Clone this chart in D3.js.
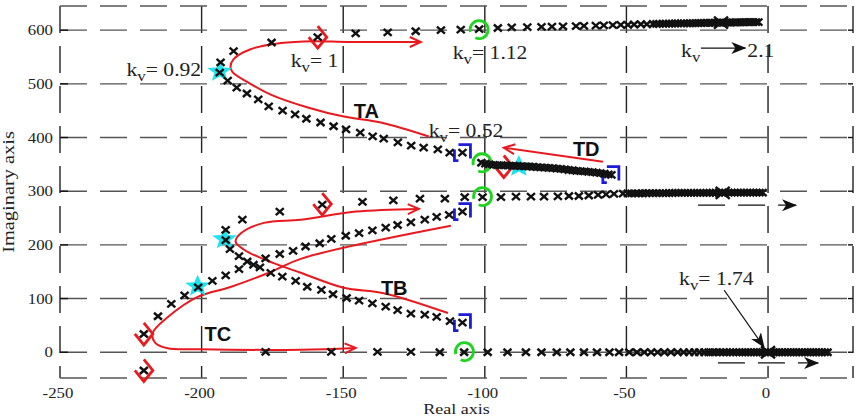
<!DOCTYPE html>
<html lang="en">
<head>
<meta charset="UTF-8">
<title>Root locus</title>
<script src="https://d3js.org/d3.v7.min.js"></script>
<style>
  body, html { margin: 0; padding: 0; background: #fff; overflow: hidden; }
  svg { display: block; }
  text.serif { font-family: "Liberation Serif", "Times New Roman", Times, "DejaVu Serif", serif; fill: #222; }
  text.tag { font-family: "Liberation Sans", Arial, sans-serif; font-weight: bold; font-size: 20px; fill: #111; }
</style>
</head>
<body>
<svg width="868" height="420"></svg>
<script>
// axis ticks
const xTicks = [-250, -200, -150, -100, -50, 0];
const yTicks = [0, 100, 200, 300, 400, 500, 600];

// locus points (real, imag)
const branchA = [
  [-107.9,372],[-112.4,372],[-116.6,378],[-121.6,381],[-126,385],[-130.7,391],[-135.7,398],[-139.6,402],
  [-144,409],[-149,415],[-153.4,421],[-158,428],[-163,435],[-167,443],[-171.4,450],[-176.3,458],
  [-180,471],[-184,482],[-187.6,493],[-190.8,506],[-193.6,521],[-193.3,540],[-188.7,561],[-175.3,577],
  [-159,587],[-145.6,594],[-134.3,596],[-124.4,598],[-115.5,600],[-108.5,601],[-102,602],[-95.4,604],
  [-90.5,605],[-85,605.5],[-80,606],[-76.3,606.5],[-72.4,607],[-67.8,607.5],[-65,608],[-60.8,608.5],
  [-58,609],[-54.8,609.5],[-52,610],[-49.5,610],[-47.3,610.5],[-44.9,611],[-42.8,611],[-40.6,611.5],
  [-39.4,611.6],[-38.3,611.8],[-37.1,611.9],[-36,612],[-34.9,612.1],[-33.9,612.3],[-32.8,612.4],[-31.8,612.5],
  [-30.7,612.6],[-29.7,612.7],[-28.6,612.8],[-27.6,612.9],[-26.6,613],[-25.6,613.1],[-24.6,613.2],[-23.6,613.3],
  [-22.6,613.4],[-21.7,613.5],[-20.7,613.6],[-19.8,613.7],[-18.8,613.8],[-17.9,613.9],[-16.9,614],[-16,614],
  [-15.1,614.1],[-14.2,614.2],[-13.3,614.3],[-12.4,614.4],[-11.5,614.5],[-10.6,614.5],[-9.7,614.6],[-8.8,614.7],
  [-7.9,614.8],[-7,614.8],[-6.1,614.9],[-5.2,615],[-4.3,615],[-3.4,615.1]
];
const branchB = [
  [-107.9,55],[-112.3,58],[-117,66],[-121.2,70],[-126.1,72],[-130.8,78.5],[-135,85],[-139.7,91],
  [-144.4,96],[-148.8,101],[-153.6,108],[-157.7,116],[-162.7,122],[-166.8,133],[-171.5,141],[-175.6,148],
  [-179.4,158],[-183.9,169],[-186.8,179],[-190,192],[-191.5,209],[-191.5,228],[-185.6,247],[-172.4,262],
  [-157.4,275],[-143.2,280],[-132.3,283],[-122.9,286],[-114.1,286],[-107.1,289],[-100.8,289],[-94.3,289],
  [-89,290],[-83.7,290],[-79.1,290],[-74.2,290.5],[-70.3,291],[-66.8,291],[-63.3,292],[-60,293],
  [-57.2,294],[-54.4,295],[-51.2,295.5],[-49.5,296],[-48.2,296],[-46.9,296.1],[-45.7,296.1],[-44.4,296.2],
  [-43.1,296.2],[-41.9,296.3],[-40.7,296.3],[-39.5,296.4],[-38.3,296.4],[-37.1,296.5],[-36,296.5],[-34.9,296.6],
  [-33.8,296.6],[-32.7,296.7],[-31.6,296.7],[-30.5,296.8],[-29.4,296.8],[-28.3,296.8],[-27.2,296.9],[-26.1,296.9],
  [-25,296.9],[-23.9,297],[-22.8,297],[-21.7,297],[-20.6,297],[-19.5,297.1],[-18.4,297.1],[-17.3,297.1],
  [-16.2,297.1],[-15.1,297.2],[-14,297.2],[-12.9,297.2],[-11.8,297.2],[-10.7,297.2],[-9.6,297.3],[-8.5,297.3],
  [-7.4,297.3],[-6.3,297.3],[-5.2,297.3],[-4.1,297.3],[-3,297.3],[-1.9,297.3]
];
const branchC = [
  [-220.4,-34],[-220.4,34],[-215.4,67],[-210.7,90],[-206,106],[-201.2,121],[-196.2,133],[-191.5,143],
  [-186.8,155],[-181.7,163],[-177.4,175],[-172.4,183],[-167.7,189],[-163.3,197],[-158.3,203],[-154.2,211],
  [-149.1,217],[-144.4,222],[-139.7,227],[-135,232],[-130.8,237],[-126.1,242],[-121.2,247],[-117,252],
  [-112.6,256],[-107.9,262]
];
const branchReal = [
  [-177.4,0.6],[-154.2,0.6],[-137.9,0.6],[-126.1,0.6],[-115.9,0],[-107.3,0],[-99,0],[-92,0],
  [-85.5,0],[-80,0],[-74.6,0],[-69.8,0],[-65,0],[-60.4,0],[-56,0],[-52.6,0],[-49,0],[-46.3,0],
  [-43.7,0],[-41.3,0],[-39,0],[-36.6,0],[-34.3,0],[-31.9,0],[-29.8,0],[-27.8,0],[-26,0],[-24.3,0],
  [-22.5,0],[-21,0],[-19.6,0],[-18.3,0],[-17,0],[-15.8,0],[-14.6,0],[-13.4,0],[-12.3,0],[-11.2,0],
  [-10.1,0],[-9,0],[-8,0],[-7,0],[-6,0],[-5,0],[-4,0],[-3,0],[-2,0],[-1,0],[0,0],[1,0],[2,0],[3,0],
  [4,0],[5,0],[6,0],[7,0],[8,0],[9,0],[10,0],[11,0],[12,0],[13,0],[14,0],[15,0],[16,0],[17,0],
  [18,0],[19,0],[20,0],[21,0]
];
const branchD = [
  [-101.2,353],[-99.8,351.5],[-98.4,350],[-97,349],[-95.6,348.6],[-94.2,348.3],[-92.8,348],[-91.4,347.7],
  [-90,347.4],[-88.6,347.1],[-87.2,346.8],[-85.8,346.4],[-84.4,346],[-83,345.5],[-81.6,345],[-80.2,344.5],
  [-78.8,344],[-77.4,343.5],[-76,343],[-74.6,342],[-73.2,341.5],[-71.8,340.5],[-70.4,339.5],[-69,339],
  [-67.6,338],[-66.2,337.5],[-64.8,337],[-63.4,336],[-62,335.5],[-60.6,334.5],[-59.2,333.5],[-57.8,332.5],
  [-56.4,331.5],[-55.3,330.5]
];
const openLoopPoles = [[-16.6,614],[-16,297],[0,0]];

// highlighted points
const stars = [[-193.6,523],[-191.9,211],[-201.4,123],[-88,346]];
const diamonds = [[-159,587],[-157.4,276],[-220.4,34],[-220.4,-34],[-93.3,346]];
const squares = [[-107.9,372],[-55.5,331],[-107.9,262],[-107.9,55]];
const circles = [[-102,601],[-101,353],[-100.8,290],[-107.2,1]];

// red trajectory arrows
const pathTA = [[-119.8,402],[-136.7,428],[-149.8,439],[-162.5,456],[-175.6,480],[-183.7,503],[-189,521.5],
  [-189.8,531],[-188.7,546],[-182.7,564.5],[-172,576],[-160.4,579.4],[-148.4,578],[-122.6,578]];
const pathTB = [[-113,73],[-135.7,110],[-149.8,120],[-165,148],[-174.6,166],[-185,191],[-188,206],
  [-186,222],[-178,241],[-165,247],[-145.6,262],[-123.3,267]];
const pathTC = [[-112,235.5],[-165,174],[-175.6,149.5],[-189.8,121.5],[-201.4,103],[-212,65],[-217.3,35.5],
  [-216.3,17],[-212,7.5],[-200.4,5.6],[-165,4.7],[-145.6,8]];
const pathTD = [[-58.3,355],[-93.3,381]];

// text annotations: [x, y, value]
const kvLabels = [[-226.5,514.5,"= 0.92"],[-168.5,531,"= 1"],[-111.3,546,"= 1.12"],[-119.8,401,"= 0.52"],[-31.4,125,"= 1.74"]];
const tags = [["TA",-146.3,436],["TB",-136.7,106],["TC",-199,21],["TD",-68.9,365.5]];

const svg = d3.select("svg");
const x = d3.scaleLinear().domain([-250, 30]).range([60, 853]);
const y = d3.scaleLinear().domain([-48, 645]).range([378, 6]);
const stretch = 1.2;
const serifFont = "'Liberation Serif', 'Times New Roman', Times, 'DejaVu Serif', serif";

const defs = svg.append("defs");
defs.append("marker").attr("id", "redHead")
  .attr("markerUnits", "userSpaceOnUse").attr("markerWidth", 16).attr("markerHeight", 16)
  .attr("refX", 12).attr("refY", 6).attr("orient", "auto")
  .append("path").attr("d", "M1,1 L12,6 L1,11")
  .attr("fill", "none").attr("stroke", "#e8191f").attr("stroke-width", 2);
defs.append("marker").attr("id", "blackHead")
  .attr("markerUnits", "userSpaceOnUse").attr("markerWidth", 18).attr("markerHeight", 14)
  .attr("refX", 14).attr("refY", 6).attr("orient", "auto")
  .append("path").attr("d", "M0,0 L15,6 L0,12 L4,6 Z").attr("fill", "#111");

// grid and frame
const grid = svg.append("g");
const [x0, x1] = x.range();
const [y0, y1] = y.range();
grid.selectAll(".vgrid").data(xTicks.concat([30])).enter().append("line")
  .attr("x1", d => x(d)).attr("x2", d => x(d)).attr("y1", y1).attr("y2", y0)
  .attr("stroke", "#222").attr("stroke-width", 1.4).attr("stroke-dasharray", "27,13");
grid.selectAll(".hgrid").data(yTicks.concat([-48, 645])).enter().append("line")
  .attr("x1", x0).attr("x2", x1).attr("y1", d => y(d)).attr("y2", d => y(d))
  .attr("stroke", "#555").attr("stroke-width", 1.4).attr("stroke-dasharray", "27,13");
grid.selectAll(".ltick").data(yTicks).enter().append("line")
  .attr("x1", x0).attr("x2", x0 + 8).attr("y1", d => y(d)).attr("y2", d => y(d))
  .attr("stroke", "#111").attr("stroke-width", 1.4);
grid.selectAll(".rtick").data(yTicks).enter().append("line")
  .attr("x1", x1 - 5).attr("x2", x1).attr("y1", d => y(d)).attr("y2", d => y(d))
  .attr("stroke", "#111").attr("stroke-width", 1.4);

// serif text helper (the picture is slightly stretched sideways)
function serifText(px, py, size, anchor, extra) {
  return svg.append("text").attr("class", "serif")
    .style("font-family", serifFont).attr("font-size", size).attr("text-anchor", anchor)
    .attr("transform", `translate(${px},${py})${extra || ""} scale(${stretch},1)`);
}

// tick labels
yTicks.forEach(d => serifText(53, y(d) + 5, 14, "end").text(d));
xTicks.forEach(d => serifText(x(d) - 2, 398, 14, "middle").text(d));
serifText((x0 + x1) / 2, 414, 15, "middle").text("Real axis");
serifText(14, (y0 + y1) / 2, 17, "middle", " rotate(-90)").text("Imaginary axis");

// red trajectories
const curve = d3.line().x(d => x(d[0])).y(d => y(d[1])).curve(d3.curveCatmullRom.alpha(0.5));
svg.append("g").selectAll("path").data([pathTA, pathTB, pathTC, pathTD]).enter().append("path")
  .attr("d", curve).attr("fill", "none").attr("stroke", "#e8191f").attr("stroke-width", 2)
  .attr("marker-end", "url(#redHead)");

// highlight symbols
function starPath(R, r) {
  const pts = [];
  for (let i = 0; i < 10; i++) {
    const a = -Math.PI / 2 + i * Math.PI / 5;
    const rad = i % 2 ? r : R;
    pts.push([rad * Math.cos(a) * 1.15, rad * Math.sin(a)]);
  }
  return "M" + pts.join("L") + "Z";
}
svg.append("g").selectAll("path").data(stars).enter().append("path")
  .attr("d", starPath(11.5, 5))
  .attr("transform", d => `translate(${x(d[0])},${y(d[1])})`)
  .attr("fill", "#20e3ee");

svg.append("g").selectAll("path").data(diamonds).enter().append("path")
  .attr("d", "M0,-11 L9,0 L0,11 L-9,0")
  .attr("transform", d => `translate(${x(d[0])},${y(d[1])})`)
  .attr("fill", "none").attr("stroke", "#e8191f").attr("stroke-width", 2.8);

svg.append("g").selectAll("path").data(squares).enter().append("path")
  .attr("d", "M-4,8 L-8,8 L-8,-3 M-4,-8 L8,-8 L8,6")
  .attr("transform", d => `translate(${x(d[0])},${y(d[1])})`)
  .attr("fill", "none").attr("stroke", "#1d1dd8").attr("stroke-width", 2.8);

const arcPath = d3.path();
arcPath.arc(0, 0, 9, 165 * Math.PI / 180, 475 * Math.PI / 180);
svg.append("g").selectAll("path").data(circles).enter().append("path")
  .attr("d", arcPath.toString())
  .attr("transform", d => `translate(${x(d[0])},${y(d[1])})`)
  .attr("fill", "none").attr("stroke", "#1fd41f").attr("stroke-width", 2.8);

// locus markers
const cross = "M-4,-3.5L4,3.5M-4,3.5L4,-3.5";
svg.append("g").selectAll("path")
  .data([].concat(branchA, branchB, branchC, branchReal, branchD)).enter().append("path")
  .attr("d", cross)
  .attr("transform", d => `translate(${x(d[0])},${y(d[1])})`)
  .attr("stroke", "#111").attr("stroke-width", 2.4);
svg.append("g").selectAll("path").data(openLoopPoles).enter().append("path")
  .attr("d", "M-7,-6L7,6M-7,6L7,-6")
  .attr("transform", d => `translate(${x(d[0])},${y(d[1])})`)
  .attr("stroke", "#111").attr("stroke-width", 2.4);

// k_v annotations
function kv(px, py) {
  const t = serifText(px, py, 18, "start");
  t.append("tspan").text("k");
  t.append("tspan").attr("font-size", 14).attr("dy", 5).text("v");
  return t;
}
kvLabels.forEach(d => {
  const t = kv(x(d[0]), y(d[1]));
  t.append("tspan").attr("font-size", 18).attr("dy", -5).text(d[2]);
});
kv(x(-30.7), y(550));
svg.append("line")
  .attr("x1", x(-23.7)).attr("x2", x(-8)).attr("y1", y(566.7)).attr("y2", y(566.7))
  .attr("stroke", "#111").attr("stroke-width", 1.2).attr("marker-end", "url(#blackHead)");
serifText(x(-7.3), y(550), 18, "start").text("2.1");
svg.append("line")
  .attr("x1", x(-15.5)).attr("x2", x(-1.4)).attr("y1", y(115.6)).attr("y2", y(9.5))
  .attr("stroke", "#111").attr("stroke-width", 1.1).attr("marker-end", "url(#blackHead)");

// dashed direction arrows
svg.append("line")
  .attr("x1", x(-24.7)).attr("x2", x(9.9)).attr("y1", y(274)).attr("y2", y(274))
  .attr("stroke", "#111").attr("stroke-width", 1.3).attr("stroke-dasharray", "27,13")
  .attr("marker-end", "url(#blackHead)");
svg.append("line")
  .attr("x1", x(-17.7)).attr("x2", x(17.7)).attr("y1", y(-20)).attr("y2", y(-20))
  .attr("stroke", "#111").attr("stroke-width", 1.3).attr("stroke-dasharray", "27,13")
  .attr("marker-end", "url(#blackHead)");

// branch tags
svg.selectAll("text.tag").data(tags).enter().append("text")
  .attr("class", "tag").attr("x", d => x(d[1])).attr("y", d => y(d[2])).text(d => d[0]);
</script>
</body>
</html>
